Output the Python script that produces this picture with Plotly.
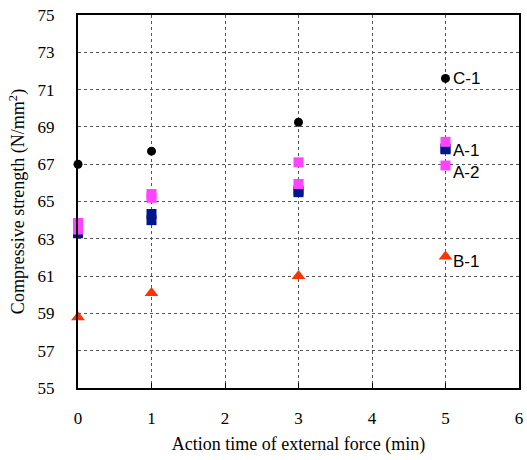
import plotly.graph_objects as go

times = [0, 1, 3, 5]
c1 = [67.0, 67.7, 69.25, 71.6]
a1_first = [63.3, 64.0, 65.5, 67.8]
a1_second = [63.4, 64.33, 65.6, 67.85]
a2_first = [63.85, 65.4, 67.1, 68.2]
a2_second = [63.5, 65.2, 65.94, 66.93]
b1 = [58.8, 60.1, 61.0, 62.05]

labels = ["C-1", "A-1", "A-2", "B-1"]
label_y = [71.6, 67.76, 66.53, 61.76]

xticks = [0, 1, 2, 3, 4, 5, 6]
yticks = [55, 57, 59, 61, 63, 65, 67, 69, 71, 73, 75]

NAVY = "#00168C"
MAG = "#FF44FF"
RED = "#FF3300"
SERIF = "Liberation Serif"

fig = go.Figure()
series = [
    (a1_first, "square", 10, NAVY),
    (a1_second, "square", 10, NAVY),
    (a2_second, "square", 10, MAG),
    (a2_first, "square", 10, MAG),
    (c1, "circle", 9, "black"),
    (b1, "triangle-up", 12, RED),
]
for ys, sym, sz, col in series:
    fig.add_trace(go.Scatter(x=times, y=ys, mode="markers", cliponaxis=False,
                             marker=dict(symbol=sym, size=sz, color=col)))

for lab, ly in zip(labels, label_y):
    fig.add_annotation(x=5.08, y=ly, text=lab, showarrow=False, xanchor="left",
                       yanchor="middle",
                       font=dict(family="Liberation Sans", size=17, color="black"))

fig.update_layout(
    width=527, height=460,
    margin=dict(l=78, r=4, t=15, b=72),
    plot_bgcolor="white", paper_bgcolor="white",
    showlegend=False,
    font=dict(family=SERIF, size=17, color="black"),
)
fig.update_xaxes(
    range=[0, 6], tickvals=xticks, ticktext=[str(v) for v in xticks],
    showline=True, linecolor="black", linewidth=2, mirror=True,
    showgrid=True, gridcolor="#555555", griddash="dot", gridwidth=1,
    ticks="inside", ticklen=5, tickcolor="black", ticklabelstandoff=14,
    zeroline=False, tickfont=dict(family=SERIF, size=17, color="black"),
    title=dict(text="Action time of external force (min)", font=dict(family=SERIF, size=18, color="black"), standoff=10),
)
fig.update_yaxes(
    range=[55, 75], tickvals=yticks, ticktext=[str(v) for v in yticks],
    showline=True, linecolor="black", linewidth=2, mirror=True,
    showgrid=True, gridcolor="#555555", griddash="dot", gridwidth=1,
    ticks="", ticklabelstandoff=18,
    zeroline=False, tickfont=dict(family=SERIF, size=17, color="black"),
    title=dict(text="Compressive strength (N/mm<sup>2</sup>)", font=dict(family=SERIF, size=18, color="black"), standoff=8),
)

fig.write_html("out.html")
